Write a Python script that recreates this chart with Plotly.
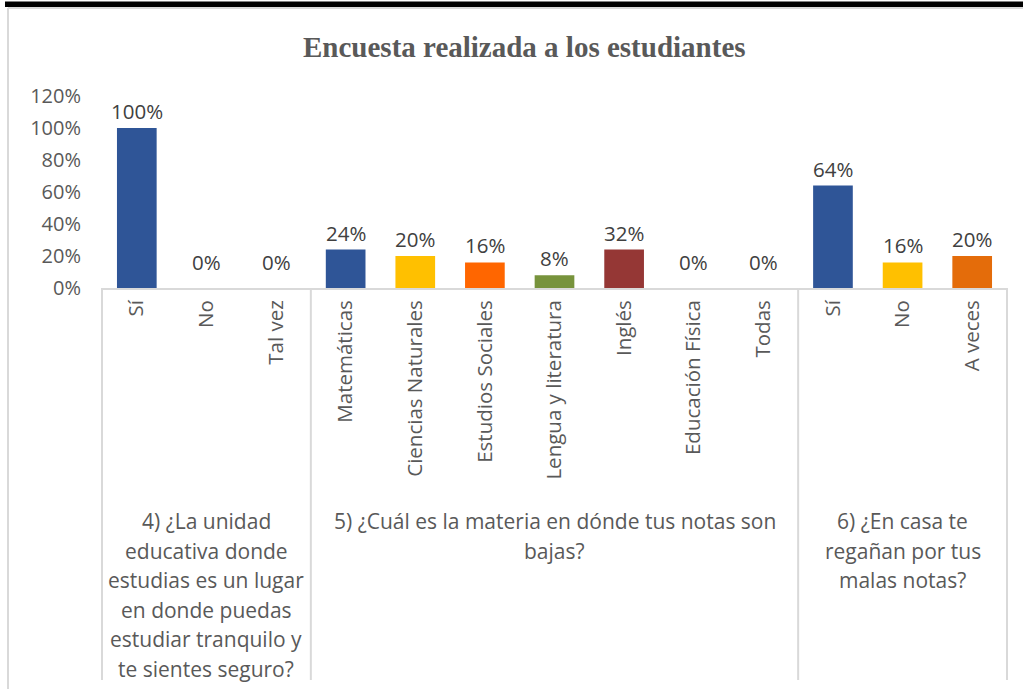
import plotly.graph_objects as go

# ---------------- data ----------------
categories = ["Sí", "No", "Tal vez",
              "Matemáticas", "Ciencias Naturales", "Estudios Sociales",
              "Lengua y literatura", "Inglés", "Educación Física", "Todas",
              "Sí", "No", "A veces"]
values = [1.00, 0.00, 0.00,
          0.24, 0.20, 0.16, 0.08, 0.24, 0.00, 0.00,
          0.64, 0.16, 0.20]
value_labels = ["100%", "0%", "0%",
                "24%", "20%", "16%", "8%", "32%", "0%", "0%",
                "64%", "16%", "20%"]
bar_colors = ["#2F5597", "#2F5597", "#2F5597",
              "#2F5597", "#FFC000", "#FF6600", "#77933C", "#953735", "#2F5597", "#2F5597",
              "#2F5597", "#FFC000", "#E46C0A"]
group_sizes = [3, 7, 3]
group_lines = [
    ["4) ¿La unidad", "educativa donde", "estudias es un lugar",
     "en donde puedas", "estudiar tranquilo y", "te sientes seguro?"],
    ["5) ¿Cuál es la materia en dónde tus notas son", "bajas?"],
    ["6) ¿En casa te", "regañan por tus", "malas notas?"],
]
y_tickvals = [0, 0.2, 0.4, 0.6, 0.8, 1.0, 1.2]
y_ticktext = ["0%", "20%", "40%", "60%", "80%", "100%", "120%"]
title_text = "Encuesta realizada a los estudiantes"

# ---------------- layout geometry ----------------
W, H = 1023, 689
L, R, T, B = 102, 1023 - 1007, 96, 689 - 288
PW, PH = W - L - R, H - T - B
n = len(categories)


def px_x(px):
    return (px - L) / PW


def px_y(py):
    return (H - B - py) / PH


GRAY = "#595959"
LINE = "#D9D9D9"
FONT = "Open Sans"

xs = list(range(n))
fig = go.Figure()
fig.add_trace(go.Bar(
    x=xs, y=values, width=0.57,
    marker=dict(color=bar_colors, line=dict(width=0)),
    hoverinfo="skip",
))

shapes = []
bounds = [0]
for g in group_sizes:
    bounds.append(bounds[-1] + g)
for b in bounds:
    xp = b / n
    shapes.append(dict(type="line", xref="paper", yref="paper",
                       x0=xp, x1=xp, y0=0, y1=px_y(680),
                       line=dict(color=LINE, width=2)))
# outer frame
shapes.append(dict(type="rect", xref="paper", yref="paper",
                   x0=px_x(5), x1=px_x(1030), y0=px_y(1.5), y1=px_y(7),
                   fillcolor="black", line=dict(width=0)))
shapes.append(dict(type="line", xref="paper", yref="paper",
                   x0=px_x(8), x1=px_x(1030), y0=px_y(8), y1=px_y(8),
                   line=dict(color=LINE, width=2)))
shapes.append(dict(type="line", xref="paper", yref="paper",
                   x0=px_x(8), x1=px_x(8), y0=px_y(8), y1=px_y(700),
                   line=dict(color=LINE, width=2)))

annotations = []
# data labels
for i, (v, lab) in enumerate(zip(values, value_labels)):
    annotations.append(dict(
        text=lab, x=xs[i], y=v, xref="x", yref="y",
        xanchor="center", yanchor="middle", showarrow=False,
        yshift=17 if v > 0 else 26,
        font=dict(family=FONT, size=20.5, color="#404040")))
# group labels
line_y0, line_step = 521, 29.5
for gi, lines in enumerate(group_lines):
    xc = (bounds[gi] + bounds[gi + 1]) / 2 / n
    for li, txt in enumerate(lines):
        annotations.append(dict(
            text=txt, xref="paper", yref="paper", x=xc,
            y=px_y(line_y0 + li * line_step),
            xanchor="center", yanchor="middle", showarrow=False,
            font=dict(family=FONT, size=21, color=GRAY)))
annotations.append(dict(
    text="<b>" + title_text + "</b>", xref="paper", yref="paper",
    x=px_x(524), y=px_y(47), xanchor="center", yanchor="middle",
    showarrow=False,
    font=dict(family="Liberation Serif", size=29, color=GRAY)))

fig.update_layout(
    width=W, height=H,
    margin=dict(l=L, r=R, t=T, b=B, autoexpand=False),
    paper_bgcolor="white", plot_bgcolor="white",
    showlegend=False,
    shapes=shapes, annotations=annotations,
    xaxis=dict(
        tickvals=xs, ticktext=categories, tickangle=-90,
        range=[-0.5, n - 0.5], showgrid=False, zeroline=False,
        showline=True, linecolor=LINE, linewidth=2, ticks="",
        ticklabelstandoff=2, fixedrange=True,
        tickfont=dict(family=FONT, size=20.5, color=GRAY),
    ),
    yaxis=dict(
        range=[0, 1.2], tickvals=y_tickvals, ticktext=y_ticktext,
        showgrid=False, zeroline=False, showline=False, ticks="",
        ticklabelstandoff=20, fixedrange=True,
        tickfont=dict(family=FONT, size=20, color=GRAY),
    ),
)

fig.write_html("out.html",
               config={"displayModeBar": False},
               post_script="document.body.style.margin='0';")
